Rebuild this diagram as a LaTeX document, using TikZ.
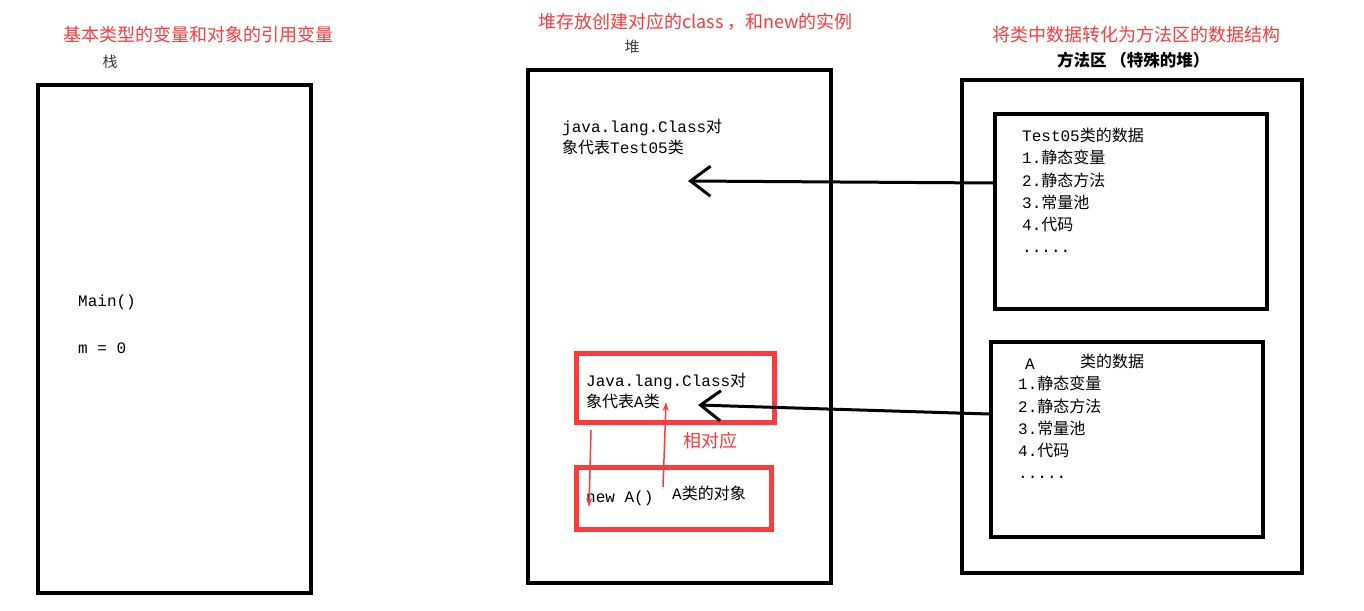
\documentclass[tikz,border=0pt]{standalone}
\usepackage{fontspec}
\setmonofont{Liberation Mono}
\newfontfamily\cjk{Noto Sans CJK SC}
\usetikzlibrary{arrows.meta}
\usetikzlibrary{positioning}
\definecolor{notered}{RGB}{250,60,60}
\definecolor{darktext}{RGB}{60,60,60}
\newcommand{\zh}[1]{{\cjk #1}}

\begin{document}
\begin{tikzpicture}[x=1pt,y=-1pt,
    every node/.style={inner sep=0pt,anchor=west},
    area/.style={draw,line width=4pt,anchor=center},
    hlbox/.style={draw=notered,line width=5pt,anchor=center},
    title/.style={font=\cjk\fontsize{18}{18}\selectfont,text=notered},
    areaname/.style={font=\cjk\fontsize{15}{15}\selectfont,text=darktext},
    code/.style={font=\ttfamily\fontsize{16}{21}\selectfont,align=left},
    link/.style={line width=3pt,-{Straight Barb[length=20pt,width=30pt]}},
    hint/.style={notered,line width=1.5pt,-{Stealth[length=9pt,width=6pt]}}]
    \fill[white] (0,0) rectangle (1364,610);
    \useasboundingbox (0,0) rectangle (1364,610);

    % the three memory areas
    \node[area,minimum width=273pt,minimum height=508pt] (stack) at (174.5,339) {};
    \node[area,minimum width=303pt,minimum height=513pt] (heap) at (679.5,326.5) {};
    \node[area,minimum width=340pt,minimum height=493pt] (method) at (1132,326.5) {};
    \node[area,minimum width=272pt,minimum height=195pt] (tdata) at (1131,211.5) {};
    \node[area,minimum width=272pt,minimum height=195pt] (adata) at (1127,439.5) {};
    \node[hlbox,minimum width=198pt,minimum height=69pt] (aclass) at (675,387.5) {};
    \node[hlbox,minimum width=195pt,minimum height=62pt] (aobj) at (673.5,498) {};

    % titles
    \node[title] (stacknote) at (63,35) {基本类型的变量和对象的引用变量};
    \node[areaname] (stackname) at (102.5,62) {栈};
    \node[title] (heapnote) at (538,22) {堆存放创建对应的class ，和new的实例};
    \node[areaname] (heapname) at (624.5,47) {堆};
    \node[title] (methodnote) at (992,35) {将类中数据转化为方法区的数据结构};
    \node[font=\cjk\bfseries\fontsize{16.5}{16.5}\selectfont] (methodname) at (1057,60) {方法区 （特殊的堆）};

    % stack
    \node[code] (main) at (78,302) {Main()};
    \node[code] (mvar) at (78,348) {m = 0};

    % heap
    \node[code] (tclass) at (562,136.5) {java.lang.Class\zh{对}\\\zh{象代表}Test05\zh{类}};
    \node[code] (aclasstext) at (586,390.5) {Java.lang.Class\zh{对}\\\zh{象代表}A\zh{类}};
    \node[code] (newa) at (586,498) {new A()};
    \node[code] (aobjtext) at (672,493) {A\zh{类的对象}};
    \node[title] (match) at (683,441) {相对应};

    % method area
    \foreach \txt [count=\i] in {Test05\zh{类的数据},1.\zh{静态变量},2.\zh{静态方法},3.\zh{常量池},4.\zh{代码}}
        \node[code] (t\i) at (1022,{135+22.5*(\i-1)}) {\txt};
    \node[code] (tdots) at (1022,251) {.....};
    \node[code] (ahead) at (1025,364) {A};
    \node[font=\cjk\fontsize{16}{16}\selectfont] (aheadzh) at (1080,361) {类的数据};
    \foreach \txt [count=\i] in {1.\zh{静态变量},2.\zh{静态方法},3.\zh{常量池},4.\zh{代码}}
        \node[code] (a\i) at (1018,{383.5+22.5*(\i-1)}) {\txt};
    \node[code] (adots) at (1018,477) {.....};

    % connectors
    \coordinate (ttip) at (688,181);
    \coordinate (atip) at (698,405);
    \draw[link] ([yshift=28.5pt]tdata.west) -- (ttip);
    \draw[link] ([yshift=25.5pt]adata.west) -- (atip);
    \coordinate (downfrom) at (591,430);
    \coordinate (downto) at (589,507);
    \coordinate (upfrom) at (663,487);
    \coordinate (upto) at (666,402);
    \draw[hint] (downfrom) -- (downto);
    \draw[hint] (upfrom) -- (upto);
\end{tikzpicture}
\end{document}
